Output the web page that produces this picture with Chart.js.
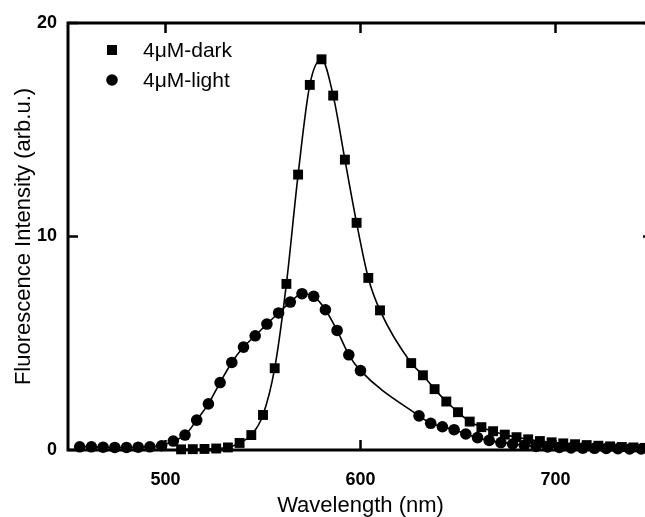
<!DOCTYPE html>
<html>
<head>
<meta charset="utf-8">
<script src="https://cdn.jsdelivr.net/npm/chart.js@4.4.0/dist/chart.umd.min.js"></script>
<style>
  html, body { margin: 0; padding: 0; background: #fff; overflow: hidden; }
  #wrap { width: 660px; height: 517px; }
</style>
</head>
<body>
<div id="wrap"><canvas id="chart" width="660" height="517"></canvas></div>
<script>
// Fluorescence spectra, 4uM dark vs light

const xTicks = [500, 600, 700];
const yTicks = [0, 10, 20];

const wlDark = [508, 514, 520, 526, 532, 538, 544, 550, 556, 562, 568, 574, 580, 586, 592, 598, 604, 610,
                626, 632, 638, 644, 650, 656, 662, 668, 674, 680, 686, 692, 698, 704, 710, 716, 722, 728, 734, 740, 746];
const intDark = [0.03, 0.04, 0.05, 0.07, 0.12, 0.33, 0.7, 1.64, 3.83, 7.78, 12.9, 17.1, 18.3, 16.6, 13.6, 10.64, 8.06, 6.54,
                 4.07, 3.5, 2.85, 2.27, 1.77, 1.33, 1.07, 0.88, 0.72, 0.6, 0.5, 0.42, 0.36, 0.31, 0.27, 0.23, 0.2, 0.17, 0.14, 0.12, 0.1];

const wlLight = [456, 462, 468, 474, 480, 486, 492, 498, 504, 510, 516, 522, 528, 534, 540, 546, 552, 558, 564, 570, 576, 582, 588, 594, 600,
                 630, 636, 642, 648, 654, 660, 666, 672, 678, 684, 690, 696, 702, 708, 714, 720, 726, 732, 738, 744, 750];
const intLight = [0.15, 0.15, 0.13, 0.12, 0.12, 0.13, 0.15, 0.2, 0.42, 0.7, 1.4, 2.16, 3.16, 4.1, 4.82, 5.35, 5.9, 6.42, 6.93, 7.32, 7.2, 6.57, 5.6, 4.46, 3.72,
                  1.6, 1.25, 1.09, 0.95, 0.75, 0.58, 0.45, 0.35, 0.28, 0.22, 0.17, 0.14, 0.12, 0.1, 0.09, 0.08, 0.07, 0.06, 0.05, 0.05, 0.05];

const FONT = "'Liberation Sans', Arial, sans-serif";

function toPoints(xs, ys) {
    return xs.map((v, i) => ({ x: v, y: ys[i] }));
}

// frame with inward ticks on all four sides
const framePlugin = {
    id: 'frame',
    afterDatasetsDraw(chart) {
        const { ctx, chartArea: a, scales: { x, y } } = chart;
        ctx.save();
        ctx.strokeStyle = '#000';
        ctx.lineWidth = 3;
        ctx.strokeRect(a.left, a.top, a.right - a.left, a.bottom - a.top);
        ctx.lineWidth = 2.5;
        ctx.beginPath();
        xTicks.forEach(v => {
            const px = x.getPixelForValue(v);
            ctx.moveTo(px, a.top); ctx.lineTo(px, a.top + 10);
            ctx.moveTo(px, a.bottom); ctx.lineTo(px, a.bottom - 10);
        });
        yTicks.forEach(v => {
            const py = y.getPixelForValue(v);
            ctx.moveTo(a.left, py); ctx.lineTo(a.left + 10, py);
            ctx.moveTo(a.right, py); ctx.lineTo(a.right - 10, py);
        });
        ctx.stroke();
        ctx.restore();
    }
};

// legend in the upper left of the plot
const legendPlugin = {
    id: 'innerLegend',
    afterDraw(chart) {
        const ctx = chart.ctx;
        const items = chart.data.datasets;
        ctx.save();
        ctx.fillStyle = '#000';
        ctx.font = '21px ' + FONT;
        ctx.textBaseline = 'middle';
        items.forEach((ds, i) => {
            const cy = 50 + i * 30;
            if (ds.pointStyle === 'rect') {
                ctx.fillRect(107, cy - 5, 10, 10);
            } else {
                ctx.beginPath();
                ctx.arc(112, cy, 5.8, 0, Math.PI * 2);
                ctx.fill();
            }
            ctx.fillText(ds.label, 143, cy + 1);
        });
        ctx.restore();
    }
};

new Chart(document.getElementById('chart'), {
    type: 'line',
    data: {
        datasets: [{
            label: '4\u03bcM-dark',
            data: toPoints(wlDark, intDark),
            borderColor: '#000',
            borderWidth: 1.6,
            pointStyle: 'rect',
            pointRadius: 7,
            pointBackgroundColor: '#000',
            pointBorderColor: '#000',
            pointBorderWidth: 0,
            cubicInterpolationMode: 'monotone',
            clip: false
        }, {
            label: '4\u03bcM-light',
            data: toPoints(wlLight, intLight),
            borderColor: '#000',
            borderWidth: 1.6,
            pointStyle: 'circle',
            pointRadius: 5.8,
            pointBackgroundColor: '#000',
            pointBorderColor: '#000',
            pointBorderWidth: 0,
            cubicInterpolationMode: 'monotone',
            clip: false
        }]
    },
    options: {
        responsive: false,
        animation: false,
        devicePixelRatio: 1,
        layout: { padding: { top: 23, right: 7, left: 0, bottom: 0 } },
        plugins: {
            legend: { display: false },
            tooltip: { enabled: false }
        },
        scales: {
            x: {
                type: 'linear',
                min: 450,
                max: 750,
                grid: { display: false, drawTicks: false },
                border: { display: false },
                afterBuildTicks: s => { s.ticks = xTicks.map(v => ({ value: v })); },
                afterFit: s => { s.height = 67; },
                ticks: {
                    color: '#000',
                    padding: 19,
                    font: { family: FONT, size: 18, weight: 'bold' }
                },
                title: {
                    display: true,
                    text: 'Wavelength (nm)',
                    color: '#000',
                    font: { family: FONT, size: 22, lineHeight: 1 },
                    padding: { top: 0, bottom: 0 }
                }
            },
            y: {
                type: 'linear',
                min: 0,
                max: 20,
                grid: { display: false, drawTicks: false },
                border: { display: false },
                afterBuildTicks: s => { s.ticks = yTicks.map(v => ({ value: v })); },
                afterFit: s => { s.width = 68; },
                ticks: {
                    color: '#000',
                    padding: 11,
                    font: { family: FONT, size: 18, weight: 'bold' }
                },
                title: {
                    display: true,
                    text: 'Fluorescence Intensity (arb.u.)',
                    color: '#000',
                    font: { family: FONT, size: 22 },
                    padding: { top: 11, bottom: 0 }
                }
            }
        }
    },
    plugins: [framePlugin, legendPlugin]
});
</script>
</body>
</html>
